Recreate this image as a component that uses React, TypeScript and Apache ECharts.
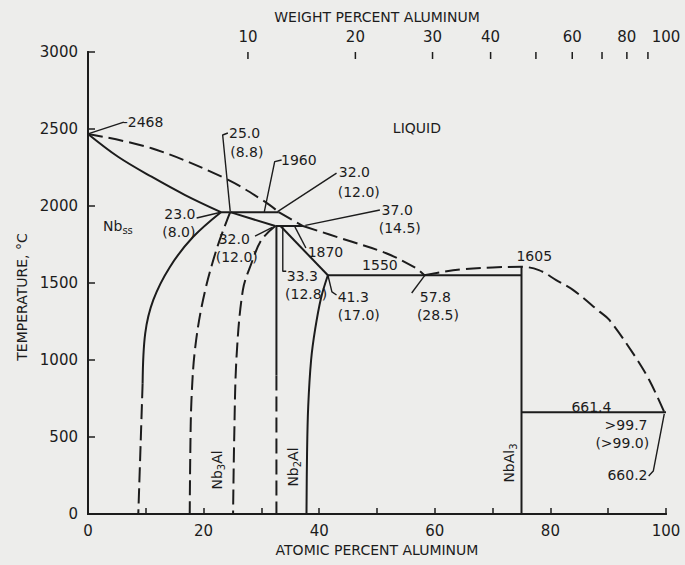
import React, { useEffect, useRef } from "react";
import * as echarts from "echarts";

// ---------- data ----------
const NB_MASS = 92.906;
const AL_MASS = 26.982;
const wtToAt = (w: number) => {
  const a = w / AL_MASS;
  const n = (100 - w) / NB_MASS;
  return (100 * a) / (a + n);
};
const atToWt = (x: number) => {
  const a = x * AL_MASS;
  const n = (100 - x) * NB_MASS;
  return (100 * a) / (a + n);
};

const weightTicks = [10, 20, 30, 40, 50, 60, 70, 80, 90];
const weightLabels = [10, 20, 30, 40, 60, 80, 100];

// phase boundaries: [atomic % Al, temperature °C]
const liquidusNbSide = [[0, 2468], [11, 2375], [23.7, 2180], [30.6, 2028], [33, 1960]];
const liquidusMid = [[33, 1960], [37.2, 1870]];
const liquidusToEutectic = [[37.2, 1870], [44.7, 1779], [51.6, 1693], [56.8, 1595], [58.2, 1550]];
const liquidusNbAl3 = [[58.2, 1550], [61, 1570], [65, 1590], [70, 1601], [75, 1605], [78, 1584], [81, 1519], [83.9, 1455], [88.5, 1314], [90.2, 1260], [94.3, 1043], [97.1, 870], [99.7, 661.4]];
const solidusNb = [[0, 2468], [5.2, 2320], [11, 2190], [16.8, 2071], [23, 1960]];
const solvusNbSolid = [[23, 1960], [18.2, 1800], [14.2, 1606], [11.3, 1390], [9.9, 1173], [9.45, 849]];
const solvusNbDashed = [[9.45, 849], [9.1, 450], [8.7, 0]];
const nb3AlLeft = [[24.6, 1960], [22.2, 1714], [19.9, 1390], [18.5, 1065], [17.9, 740], [17.7, 400], [17.6, 0]];
const nb3AlRight = [[32.4, 1870], [30, 1779], [28.2, 1620], [26.8, 1455], [25.7, 1021], [25.3, 500], [25.1, 0]];
const nb3AlTop = [[24.6, 1960], [32.4, 1870]];
const nb2AlLeftSolid = [[32.6, 1870], [32.6, 900]];
const nb2AlLeftDashed = [[32.6, 900], [32.6, 0]];
const nb2AlRightUpper = [[33.3, 1870], [41.5, 1550]];
const nb2AlRightLower = [[41.5, 1550], [40.3, 1400], [39.3, 1200], [38.6, 1000], [38.1, 700], [37.9, 400], [37.8, 0]];
const peritectic1960 = [[23, 1960], [33, 1960]];
const peritectic1870 = [[32.4, 1870], [37.2, 1870]];
const eutectic1550 = [[41.5, 1550], [75, 1550]];
const nbAl3Line = [[75, 0], [75, 1605]];
const eutectic661 = [[75, 661.4], [100, 661.4]];

// leader lines for annotations
const leaders = [
  [[0, 2468], [6.2, 2545]],
  [[24.2, 2474], [23.3, 2461], [24.6, 1967]],
  [[33.5, 2299], [32.3, 2288], [30.5, 1962]],
  [[43.0, 2214], [32.8, 1964]],
  [[50.5, 1974], [37.6, 1874]],
  [[18.8, 1922], [22.8, 1958]],
  [[28.9, 1805], [31.9, 1862]],
  [[37.7, 1727], [35.8, 1864]],
  [[33.7, 1862], [33.7, 1576], [34.3, 1576]],
  [[43.0, 1422], [42.2, 1442], [41.5, 1552]],
  [[56.0, 1435], [58.4, 1556]],
  [[97.0, 247], [97.8, 279], [99.7, 650]],
];

// annotations: text, anchor point [at%, °C], alignment
const annotations = [
  { text: "-2468", at: [6.0, 2545], align: "left" },
  { text: "LIQUID", at: [56.9, 2506], align: "center", size: 14 },
  { text: "{a|Nb}{s|ss}", at: [2.6, 1870], align: "left" },
  { text: "25.0", at: [24.4, 2474], align: "left" },
  { text: "(8.8)", at: [24.6, 2351], align: "left" },
  { text: "1960", at: [33.4, 2299], align: "left" },
  { text: "32.0", at: [43.4, 2221], align: "left" },
  { text: "(12.0)", at: [43.2, 2091], align: "left" },
  { text: "37.0", at: [50.8, 1974], align: "left" },
  { text: "(14.5)", at: [50.3, 1857], align: "left" },
  { text: "23.0", at: [18.6, 1946], align: "right" },
  { text: "(8.0)", at: [18.6, 1828], align: "right" },
  { text: "32.0", at: [22.6, 1787], align: "left" },
  { text: "(12.0)", at: [22.1, 1672], align: "left" },
  { text: "1870", at: [38.0, 1701], align: "left" },
  { text: "33.3", at: [34.4, 1543], align: "left" },
  { text: "(12.8)", at: [34.1, 1428], align: "left" },
  { text: "1550", at: [50.5, 1617], align: "center" },
  { text: "41.3", at: [43.2, 1412], align: "left" },
  { text: "(17.0)", at: [43.2, 1292], align: "left" },
  { text: "57.8", at: [57.4, 1412], align: "left" },
  { text: "(28.5)", at: [56.9, 1292], align: "left" },
  { text: "1605", at: [77.2, 1675], align: "center" },
  { text: "661.4", at: [87.1, 695], align: "center" },
  { text: ">99.7", at: [96.8, 580], align: "right" },
  { text: "(>99.0)", at: [97.1, 464], align: "right" },
  { text: "660.2", at: [96.8, 253], align: "right" },
  { text: "{a|Nb}{s|3}{a|Al}", at: [22.3, 286], align: "center", rot: true },
  { text: "{a|Nb}{s|2}{a|Al}", at: [35.4, 305], align: "center", rot: true },
  { text: "{a|NbAl}{s|3}", at: [72.9, 331], align: "center", rot: true },
];

// ---------- styles ----------
const INK = "#1c1c1c";
const BG = "#ededeb";
const FONT = "DejaVu Sans";
const DASH = [15, 6];

const solid = (data: number[][], smooth: number | boolean = 0.35) => ({
  type: "line",
  data,
  showSymbol: false,
  smooth,
  silent: true,
  lineStyle: { color: INK, width: 2 },
});
const dashed = (data: number[][], smooth: number | boolean = 0.35) => ({
  type: "line",
  data,
  showSymbol: false,
  smooth,
  silent: true,
  lineStyle: { color: INK, width: 2, type: DASH },
});
const leader = (data: number[][]) => ({
  type: "line",
  data,
  showSymbol: false,
  silent: true,
  lineStyle: { color: INK, width: 1.4 },
});

export default function App() {
  const ref = useRef<HTMLDivElement>(null);
  useEffect(() => {
    document.body.style.margin = "0";
    document.body.style.background = BG;
    const chart = echarts.init(ref.current!, undefined, { renderer: "svg" });
    const axisLineStyle = { color: INK, width: 2 };
    const rich = {
      a: { fontFamily: FONT, fontSize: 14, color: INK },
      s: { fontFamily: FONT, fontSize: 10, color: INK, padding: [9, 0, 0, 0] },
    };
    chart.setOption({
      animation: false,
      backgroundColor: BG,
      grid: { left: 88, right: 19, top: 52, bottom: 51 },
      xAxis: [
        {
          type: "value",
          min: 0,
          max: 100,
          interval: 10,
          position: "bottom",
          name: "ATOMIC PERCENT ALUMINUM",
          nameLocation: "middle",
          nameGap: 29,
          nameTextStyle: { fontFamily: FONT, fontSize: 14, color: INK, verticalAlign: "top" },
          axisLine: { show: true, lineStyle: axisLineStyle },
          axisTick: { show: true, inside: true, length: 6, lineStyle: { color: INK, width: 1.5 } },
          axisLabel: {
            fontFamily: FONT,
            fontSize: 15,
            color: INK,
            margin: 9,
            formatter: (v: number) => (v % 20 === 0 ? String(v) : ""),
          },
          splitLine: { show: false },
        },
        {
          type: "value",
          min: 0,
          max: 100,
          position: "top",
          name: "WEIGHT PERCENT ALUMINUM",
          nameLocation: "middle",
          nameGap: 28,
          nameTextStyle: { fontFamily: FONT, fontSize: 14, color: INK },
          axisLine: { show: true, lineStyle: axisLineStyle },
          axisTick: { show: false },
          axisLabel: {
            fontFamily: FONT,
            fontSize: 15,
            color: INK,
            margin: 8,
            customValues: weightLabels.map(wtToAt),
            formatter: (v: number) => String(Math.round(atToWt(v))),
          },
          splitLine: { show: false },
        },
      ],
      yAxis: [
        {
          type: "value",
          min: 0,
          max: 3000,
          interval: 500,
          axisLine: { show: true, lineStyle: axisLineStyle },
          axisTick: { show: true, inside: true, length: 7, lineStyle: { color: INK, width: 1.5 } },
          axisLabel: { fontFamily: FONT, fontSize: 15, color: INK, margin: 10, formatter: (v: number) => String(v) },
          splitLine: { show: false },
        },
        {
          type: "value",
          min: 0,
          max: 3000,
          position: "right",
          axisLine: { show: true, lineStyle: axisLineStyle },
          axisTick: { show: false },
          axisLabel: { show: false },
          splitLine: { show: false },
        },
      ],
      graphic: [
        {
          type: "text",
          x: 22,
          y: 297,
          rotation: Math.PI / 2,
          style: {
            text: "TEMPERATURE, °C",
            fill: INK,
            font: `14px "${FONT}"`,
            align: "center",
            verticalAlign: "middle",
          },
        },
      ],
      series: [
        dashed(liquidusNbSide),
        dashed(liquidusMid, false),
        dashed(liquidusToEutectic),
        dashed(liquidusNbAl3),
        solid(solidusNb),
        solid(solvusNbSolid),
        dashed(solvusNbDashed),
        dashed(nb3AlLeft),
        dashed(nb3AlRight),
        solid(nb3AlTop, false),
        solid(nb2AlLeftSolid, false),
        dashed(nb2AlLeftDashed, false),
        solid(nb2AlRightUpper, false),
        solid(nb2AlRightLower),
        solid(peritectic1960, false),
        solid(peritectic1870, false),
        solid(eutectic1550, false),
        solid(nbAl3Line, false),
        solid(eutectic661, false),
        ...leaders.map(leader),
        {
          // weight-percent ticks on the top axis, placed through the x scale
          type: "custom",
          silent: true,
          clip: false,
          data: weightTicks.map((w) => [wtToAt(w), 3000]),
          renderItem: (params: any, api: any) => {
            const p = api.coord([api.value(0), api.value(1)]);
            return {
              type: "line",
              shape: { x1: p[0], y1: p[1], x2: p[0], y2: p[1] + 7 },
              style: { stroke: INK, lineWidth: 1.5 },
            };
          },
        },
        {
          type: "custom",
          silent: true,
          clip: false,
          data: annotations.map((a) => a.at),
          renderItem: (params: any, api: any) => {
            const a: any = annotations[params.dataIndex];
            const p = api.coord([api.value(0), api.value(1)]);
            return {
              type: "text",
              x: p[0],
              y: p[1],
              rotation: a.rot ? Math.PI / 2 : 0,
              style: {
                text: a.text,
                fill: INK,
                font: `${a.size || 14}px "${FONT}"`,
                align: a.align,
                verticalAlign: "middle",
                rich,
              },
            };
          },
        },
      ],
    });
    return () => chart.dispose();
  }, []);
  return <div ref={ref} style={{ width: 685, height: 565 }} />;
}
